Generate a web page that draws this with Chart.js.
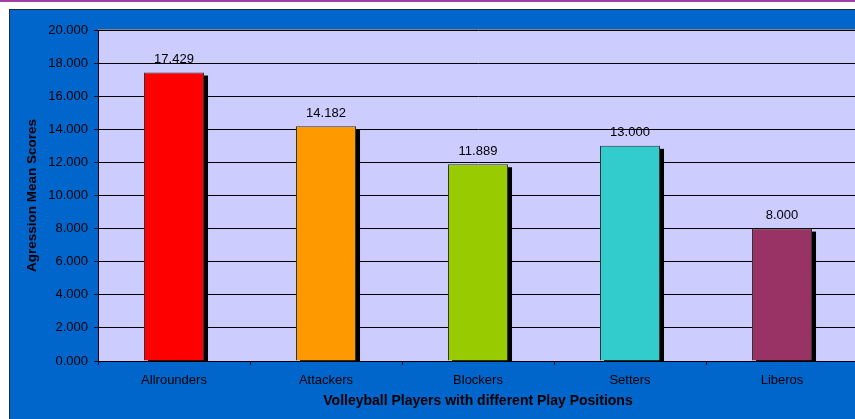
<!DOCTYPE html>
<html><head><meta charset="utf-8">
<script src="https://cdn.jsdelivr.net/npm/chart.js@4/dist/chart.umd.min.js"></script>
<style>html,body{margin:0;padding:0;overflow:hidden;width:855px;height:419px;background:#fff}canvas{position:absolute;left:0;top:0}</style>
</head><body>
<canvas id="c" width="861" height="419"></canvas>
<script>
const categories = ["Allrounders", "Attackers", "Blockers", "Setters", "Liberos"];
const scores = [17.429, 14.182, 11.889, 13.000, 8.000];
const barColors = ["#FF0000", "#FF9900", "#99CC00", "#33CCCC", "#993366"];
const yTitle = "Agression Mean Scores";
const xTitle = "Volleyball Players with different Play Positions";

const FONT = "'Liberation Sans', Arial, sans-serif";

const bgPlugin = {
  id: 'bg',
  beforeDraw(chart) {
    const ctx = chart.ctx, a = chart.chartArea;
    ctx.save();
    ctx.fillStyle = '#fff';
    ctx.fillRect(0, 0, chart.width, chart.height);
    ctx.fillStyle = '#A23FA6';
    ctx.fillRect(0, 0, chart.width, 2);
    ctx.fillStyle = '#1c2c44';
    ctx.fillRect(9, 9, chart.width, chart.height);
    ctx.fillStyle = '#0066CC';
    ctx.fillRect(10, 10, chart.width, chart.height);
    ctx.fillStyle = '#CCCCFF';
    ctx.fillRect(a.left, a.top, a.right - a.left, a.bottom - a.top);
    ctx.fillStyle = '#808080';
    ctx.fillRect(a.left, a.top - 1, a.right - a.left, 1);
    ctx.restore();
  },
  beforeDatasetsDraw(chart) {
    const ctx = chart.ctx, a = chart.chartArea;
    ctx.save();
    ctx.beginPath();
    ctx.rect(a.left, a.top, a.right - a.left, a.bottom - a.top);
    ctx.clip();
    ctx.fillStyle = '#000';
    chart.getDatasetMeta(0).data.forEach(bar => {
      const p = bar.getProps(['x', 'y', 'base', 'width'], true);
      ctx.fillRect(p.x - p.width / 2 + 4, p.y + 3, p.width, p.base - p.y);
    });
    ctx.restore();
  },
  afterDatasetsDraw(chart) {
    const ctx = chart.ctx;
    ctx.save();
    ctx.font = "13px " + FONT;
    ctx.fillStyle = '#000';
    ctx.textAlign = 'center';
    ctx.textBaseline = 'middle';
    const meta = chart.getDatasetMeta(0);
    meta.data.forEach((bar, i) => {
      ctx.fillText(scores[i].toFixed(3), bar.x, bar.y - 13);
    });
    ctx.restore();
  }
};

new Chart(document.getElementById('c'), {
  type: 'bar',
  data: {
    labels: categories,
    datasets: [{
      data: scores,
      backgroundColor: barColors,
      borderColor: '#333',
      borderWidth: 1,
      categoryPercentage: 1,
      barPercentage: 0.395
    }]
  },
  plugins: [bgPlugin],
  options: {
    responsive: false,
    animation: false,
    devicePixelRatio: 1,
    layout: { padding: { left: 0, top: 30, right: 3, bottom: 0 } },
    plugins: { legend: { display: false }, tooltip: { enabled: false } },
    scales: {
      x: {
        afterFit(s) { s.height = 58; },
        grid: { display: true, drawOnChartArea: false, drawTicks: true, tickLength: 4, color: '#000', offset: true },
        border: { display: true, color: '#000', width: 1 },
        ticks: { color: '#000', font: { family: FONT, size: 13 }, padding: 8, maxRotation: 0 },
        title: { display: true, text: xTitle, color: '#000', font: { family: FONT, size: 14, weight: 'bold' }, padding: { top: 0, bottom: 9 } }
      },
      y: {
        min: 0, max: 20,
        afterFit(s) { s.width = 98; },
        grid: { color: '#000', lineWidth: 1, tickLength: 4, drawTicks: true },
        border: { display: true, color: '#000', width: 1 },
        ticks: { stepSize: 2, color: '#000', font: { family: FONT, size: 13 }, padding: 6,
          callback: v => Number(v).toFixed(3) },
        title: { display: true, text: yTitle, color: '#000', font: { family: FONT, size: 13.5, weight: 'bold' }, padding: { top: 24, bottom: 0 } }
      }
    }
  }
});
</script>
</body></html>
